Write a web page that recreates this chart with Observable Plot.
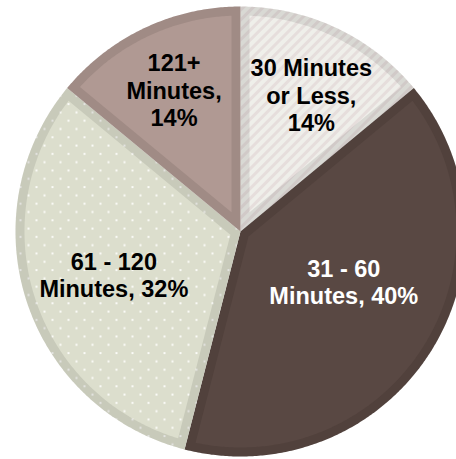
<!DOCTYPE html>
<html>
<head>
<meta charset="utf-8">
<script src="https://cdn.jsdelivr.net/npm/d3@7"></script>
<script src="https://cdn.jsdelivr.net/npm/@observablehq/plot@0.6"></script>
<style>
  html, body { margin: 0; padding: 0; background: #fff; }
  #chart svg { display: block; }
</style>
</head>
<body>
<div id="chart"></div>
<script>
// Commute length shares
const categories = ["30 Minutes or Less", "31 - 60 Minutes", "61 - 120 Minutes", "121+ Minutes"];
const shares = [14, 40, 32, 14];
const labelStems = ["30 Minutes\nor Less,\n", "31 - 60\nMinutes, ", "61 - 120\nMinutes, ", "121+\nMinutes,\n"];

// Slice paints (patterns are defined in <defs> below) and label ink
const paints = ["url(#stripes)", "#594843", "url(#dots)", "#b09993"];
const inks = ["#000000", "#ffffff", "#000000", "#000000"];
// Label placement: distance from centre (fraction of radius) and angular nudge (degrees)
const labelRadius = [0.684, 0.51, 0.595, 0.696];
const labelTurn = [2.2, -6.6, -0.9, 0.1];

const W = 456, H = 459;
const cx = 240, cy = 231, R = 225;   // pie centre and radius in pixels
const rim = 9 / R;                   // darker rim drawn inside every slice

const pie = d3.pie().sort(null).value(d => d.share).startAngle(0).endAngle(2 * Math.PI);
const slices = pie(categories.map((category, i) => ({category, share: shares[i], i})));

// angle measured clockwise from 12 o'clock, y pointing up
const pt = (a, r) => [r * Math.sin(a), r * Math.cos(a)];

function arcPoints(a0, a1, r) {
  const n = Math.max(8, Math.ceil((a1 - a0) / (Math.PI / 360)));
  return d3.range(n + 1).map(k => pt(a0 + (a1 - a0) * k / n, r));
}

function wedge(s) {
  return [[0, 0], ...arcPoints(s.startAngle, s.endAngle, 1), [0, 0]].map(([x, y]) => ({x, y}));
}

function insetWedge(s) {
  const th = s.endAngle - s.startAngle;
  const mid = (s.startAngle + s.endAngle) / 2;
  const apex = pt(mid, rim / Math.sin(th / 2));
  const r = 1 - rim;
  const da = Math.asin(rim / r);
  return [apex, ...arcPoints(s.startAngle + da, s.endAngle - da, r), apex].map(([x, y]) => ({x, y}));
}

const labels = slices.map(s => {
  const i = s.data.i;
  const a = (s.startAngle + s.endAngle) / 2 + labelTurn[i] * Math.PI / 180;
  const [x, y] = pt(a, labelRadius[i]);
  return {x, y, text: labelStems[i] + shares[i] + "%", ink: inks[i]};
});

const marks = [];
for (const s of slices) {
  const i = s.data.i;
  marks.push(Plot.line(wedge(s), {x: "x", y: "y", fill: paints[i], stroke: "none"}));
  marks.push(Plot.line(wedge(s), {x: "x", y: "y", fill: "#000", fillOpacity: 0.09, stroke: "none"}));
  marks.push(Plot.line(insetWedge(s), {x: "x", y: "y", fill: paints[i], stroke: "none"}));
}
marks.push(Plot.text(labels, {
  x: "x", y: "y", text: "text", fill: "ink",
  textAnchor: "middle", lineAnchor: "middle", lineHeight: 1.17,
  fontSize: 23.5, fontWeight: "bold",
  fontFamily: "'Liberation Sans', Arial, Helvetica, sans-serif"
}));

const chart = Plot.plot({
  width: W, height: H,
  margin: 0,
  x: {domain: [-cx / R, (W - cx) / R], axis: null},
  y: {domain: [-(H - cy) / R, cy / R], axis: null},
  color: {type: "identity"},
  style: {background: "#fff", overflow: "hidden"},
  marks
});

const defs = d3.select(chart).insert("defs", ":first-child");
const stripes = defs.append("pattern")
  .attr("id", "stripes").attr("patternUnits", "userSpaceOnUse")
  .attr("width", 7).attr("height", 7).attr("patternTransform", "rotate(45)");
stripes.append("rect").attr("width", 7).attr("height", 7).attr("fill", "#efefea");
stripes.append("rect").attr("width", 3).attr("height", 7).attr("fill", "#e6dedc");

const dots = defs.append("pattern")
  .attr("id", "dots").attr("patternUnits", "userSpaceOnUse")
  .attr("width", 16).attr("height", 16.6);
dots.append("rect").attr("width", 16).attr("height", 16.6).attr("fill", "#dcdecd");
dots.append("rect").attr("x", 3).attr("y", 3).attr("width", 2).attr("height", 2).attr("fill", "#fbfbf7");
dots.append("rect").attr("x", 11).attr("y", 11.3).attr("width", 2).attr("height", 2).attr("fill", "#fbfbf7");

document.getElementById("chart").appendChild(chart);
</script>
</body>
</html>
